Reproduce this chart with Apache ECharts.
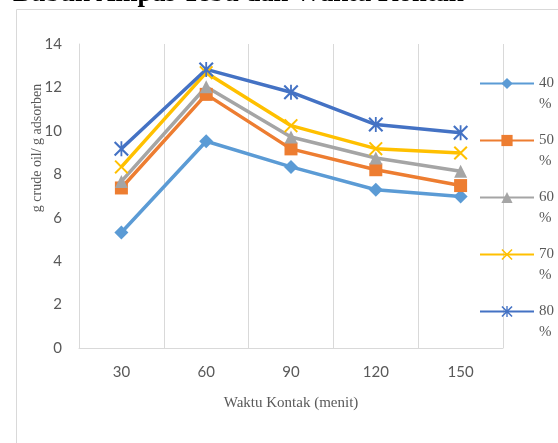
<!DOCTYPE html>
<html>
<head>
<meta charset="utf-8">
<script src="https://cdn.jsdelivr.net/npm/echarts@6/dist/echarts.min.js"></script>
<style>
  html, body { margin: 0; padding: 0; background: #fff; }
  #chart { width: 558px; height: 443px; }
</style>
</head>
<body>
<div id="chart"></div>
<script>
const categories = ['30', '60', '90', '120', '150']
const seriesNames = ['40%', '50%', '60%', '70%', '80%']
const values40 = [5.32, 9.52, 8.34, 7.29, 6.98]
const values50 = [7.37, 11.68, 9.17, 8.21, 7.48]
const values60 = [7.67, 12.03, 9.72, 8.75, 8.14]
const values70 = [8.34, 12.68, 10.24, 9.18, 8.98]
const values80 = [9.18, 12.83, 11.78, 10.29, 9.91]
const yTicks = [0, 2, 4, 6, 8, 10, 12, 14]

const colors = ['#5B9BD5', '#ED7D31', '#A5A5A5', '#FFC000', '#4472C4']
const crossPath = 'path://M0,1 L1,0 L5,4 L9,0 L10,1 L6,5 L10,9 L9,10 L5,6 L1,10 L0,9 L4,5 Z'
const starPath = 'path://M0,1 L1,0 L5,4 L9,0 L10,1 L6,5 L10,9 L9,10 L5,6 L1,10 L0,9 L4,5 Z M4.4,0 L5.6,0 L5.6,10 L4.4,10 Z'
const symbols = ['diamond', 'rect', 'triangle', crossPath, starPath]
const symbolSizes = [14, 13, 13, 14, 15]

const allValues = [values40, values50, values60, values70, values80]

const chart = echarts.init(document.getElementById('chart'))

const serif = '"Liberation Serif", "DejaVu Serif", serif'
const sans = 'Lato, "Open Sans", sans-serif'

chart.setOption({
  animation: false,
  grid: {
    left: 79,
    right: 55,
    top: 44,
    bottom: 95,
  },
  graphic: [
    {
      type: 'polyline',
      shape: { points: [[16.5, 443], [16.5, 9.5], [558, 9.5]] },
      style: { stroke: '#d9d9d9', lineWidth: 1, fill: null },
      silent: true,
    },
    {
      type: 'text',
      left: 13,
      top: -19,
      style: {
        text: 'Bubuk Ampas Tebu dan Waktu Kontak',
        font: 'bold 26.5px ' + serif,
        fill: '#000',
      },
    },
    {
      type: 'text',
      x: 37,
      y: 148,
      rotation: Math.PI / 2,
      style: {
        text: 'g crude oil/ g adsorben',
        font: '14px ' + serif,
        fill: '#595959',
        align: 'center',
        verticalAlign: 'middle',
      },
    },
    {
      type: 'text',
      x: 291,
      y: 403,
      style: {
        text: 'Waktu Kontak (menit)',
        font: '15px ' + serif,
        fill: '#595959',
        align: 'center',
        verticalAlign: 'middle',
      },
    },
  ],
  legend: {
    orient: 'vertical',
    left: 474,
    top: 47,
    itemWidth: 54,
    itemHeight: 14,
    itemGap: -6,
    data: seriesNames,
    // blank first line keeps the number level with the icon
    formatter: (name) => ' \n' + name.replace('%', '\n%'),
    textStyle: {
      fontFamily: serif,
      fontSize: 15,
      color: '#595959',
      lineHeight: 21,
    },
  },
  xAxis: {
    type: 'category',
    data: categories,
    boundaryGap: true,
    axisLine: { lineStyle: { color: '#d9d9d9', width: 1 } },
    axisTick: { show: false },
    axisLabel: {
      color: '#595959',
      fontFamily: sans,
      fontSize: 15,
      margin: 17,
    },
    splitLine: {
      show: true,
      lineStyle: { color: '#d9d9d9', width: 1 },
    },
  },
  yAxis: {
    type: 'value',
    min: yTicks[0],
    max: yTicks[yTicks.length - 1],
    interval: 2,
    axisLine: { show: true, lineStyle: { color: '#d9d9d9', width: 1 } },
    axisTick: { show: false },
    splitLine: { show: false },
    axisLabel: {
      color: '#595959',
      fontFamily: sans,
      fontSize: 15,
      margin: 17,
    },
  },
  series: seriesNames.map((name, i) => ({
    name: name,
    type: 'line',
    data: allValues[i],
    color: colors[i],
    symbol: symbols[i],
    symbolSize: symbolSizes[i],
    showAllSymbol: true,
    lineStyle: { width: 3.5 },
    itemStyle: { color: colors[i] },
    emphasis: { disabled: true },
  })),
})
</script>
</body>
</html>
